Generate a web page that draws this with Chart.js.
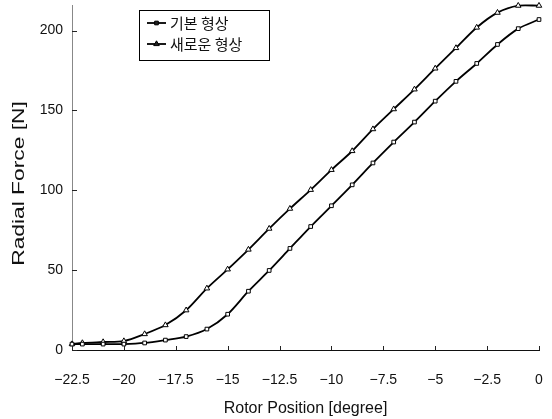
<!DOCTYPE html>
<html>
<head>
<meta charset="utf-8">
<script src="https://cdn.jsdelivr.net/npm/chart.js@4/dist/chart.umd.min.js"></script>
<style>
html,body{margin:0;padding:0;background:#fff;}
#wrap{width:552px;height:419px;position:relative;}
</style>
</head>
<body>
<div id="wrap"><canvas id="c" width="552" height="419"></canvas></div>
<script>
// Rotor position (degree)
const positions = [-22.5,-22,-21,-20,-19,-18,-17,-16,-15,-14,-13,-12,-11,-10,-9,-8,-7,-6,-5,-4,-3,-2,-1,0];
// 기본 형상 (basic shape) radial force [N]
const basicShape = [3.7,3.7,3.7,3.7,4.4,6.2,8.4,13.1,22.4,36.8,49.8,63.6,77.3,90.3,103.4,117.1,130.2,142.7,155.8,168.2,179.4,191.3,201.2,206.9];
// 새로운 형상 (new shape) radial force [N]
const newShape = [3.7,4.4,5.0,5.6,10.0,15.6,24.9,38.6,50.5,62.9,76.0,88.5,100.3,112.8,124.6,138.3,150.8,163.2,176.3,189.1,201.9,211.2,215.6,215.6];
const seriesNames = ['기본 형상','새로운 형상'];
const xTicks = [-22.5,-20,-17.5,-15,-12.5,-10,-7.5,-5,-2.5,0];
const yTicks = [0,50,100,150,200];
const xTitle = 'Rotor Position [degree]';
const yTitle = 'Radial Force [N]';

const tickFont = {family:'Liberation Sans, Arial, sans-serif', size:14};

const decorPlugin = {
  id:'decor',
  afterDraw(chart){
    const ctx = chart.ctx;
    const xs = chart.scales.x, ys = chart.scales.y;
    const ca = chart.chartArea;
    ctx.save();
    // inward tick marks
    ctx.strokeStyle = '#222';
    ctx.lineWidth = 1;
    yTicks.forEach(v=>{
      const y = Math.round(ys.getPixelForValue(v))+0.5;
      ctx.beginPath(); ctx.moveTo(ca.left, y); ctx.lineTo(ca.left+5, y); ctx.stroke();
    });
    xTicks.forEach(v=>{
      const x = Math.round(xs.getPixelForValue(v))+0.5;
      ctx.beginPath(); ctx.moveTo(x, ca.bottom); ctx.lineTo(x, ca.bottom-4); ctx.stroke();
    });
    // y axis title
    ctx.fillStyle = '#111';
    ctx.font = '17px "Liberation Sans", Arial, sans-serif';
    ctx.textAlign = 'center';
    ctx.textBaseline = 'alphabetic';
    ctx.translate(24, (ca.top+ca.bottom)/2 + 6);
    ctx.rotate(-Math.PI/2);
    ctx.scale(1.34,1);
    ctx.fillText(yTitle, 0, 0);
    ctx.restore();

    // legend box
    ctx.save();
    const bx = 139.5, by = 10.5, bw = 130, bh = 50;
    ctx.strokeStyle = '#000';
    ctx.lineWidth = 1;
    ctx.strokeRect(bx, by, bw, bh);
    const rows = [23, 44];
    chart.data.datasets.forEach((ds, i)=>{
      const y = rows[i];
      ctx.strokeStyle = '#000';
      ctx.lineWidth = 1.8;
      ctx.beginPath(); ctx.moveTo(147, y); ctx.lineTo(166, y); ctx.stroke();
      ctx.fillStyle = '#222';
      ctx.lineWidth = 1;
      Chart.helpers.drawPoint(ctx, {pointStyle: ds.pointStyle, radius: ds.pointRadius, borderWidth: 1, rotation:0}, 156.5, y);
      ctx.fillStyle = '#111';
      ctx.font = '15px "Noto Sans CJK KR", sans-serif';
      ctx.textAlign = 'left';
      ctx.textBaseline = 'middle';
      ctx.fillText(ds.label, 170, y);
    });
    ctx.restore();
  }
};

new Chart(document.getElementById('c'), {
  type:'line',
  data:{
    datasets:[
      {label:seriesNames[0], data: positions.map((x,i)=>({x, y: basicShape[i]})),
       borderColor:'#000', borderWidth:1.8, backgroundColor:'#fff',
       pointStyle:'rect', pointRadius:2.6, pointBorderWidth:1, pointBorderColor:'#000', pointBackgroundColor:'#fff',
       tension:0.3, clip:false},
      {label:seriesNames[1], data: positions.map((x,i)=>({x, y: newShape[i]})),
       borderColor:'#000', borderWidth:1.8, backgroundColor:'#fff',
       pointStyle:'triangle', pointRadius:3.2, pointBorderWidth:1, pointBorderColor:'#000', pointBackgroundColor:'#fff',
       tension:0.3, clip:false}
    ]
  },
  options:{
    responsive:false,
    animation:false,
    devicePixelRatio:1,
    layout:{padding:{top:3,right:13,left:0,bottom:0}},
    plugins:{legend:{display:false}, tooltip:{enabled:false}},
    scales:{
      x:{
        type:'linear', min:-22.5, max:0,
        afterBuildTicks(s){ s.ticks = xTicks.map(v=>({value:v})); },
        afterFit(s){ s.height = 69; s.paddingLeft = 0; s.paddingRight = 0; },
        grid:{display:false, drawTicks:false},
        border:{display:true, color:'#111', width:1},
        ticks:{color:'#111', font:tickFont, padding:22, maxRotation:0, autoSkip:false,
          callback:(v)=> (v<0 ? '\u2212' + Math.abs(v) : String(v))},
        title:{display:true, text:xTitle, color:'#111',
          font:{family:'Liberation Sans, Arial, sans-serif', size:16}, padding:{top:0,bottom:1}}
      },
      y:{
        type:'linear', min:0, max:216,
        afterBuildTicks(s){ s.ticks = yTicks.map(v=>({value:v})); },
        afterFit(s){ s.width = 72; s.paddingTop = 0; s.paddingBottom = 0; },
        grid:{display:false, drawTicks:false},
        border:{display:true, color:'#888', width:1, dash:[2,2]},
        ticks:{color:'#111', font:tickFont, padding:9}
      }
    }
  },
  plugins:[decorPlugin]
});
</script>
</body>
</html>
